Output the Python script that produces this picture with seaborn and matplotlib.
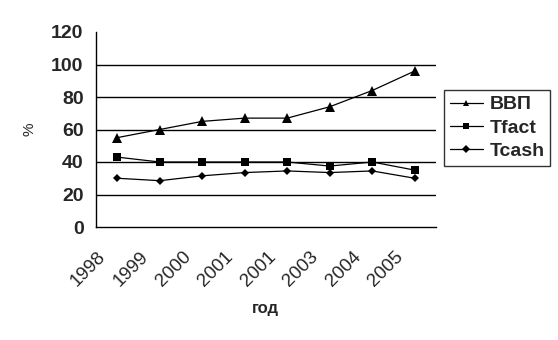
import matplotlib
matplotlib.use("Agg")
import matplotlib.pyplot as plt
import matplotlib.transforms as mtransforms
import seaborn as sns
import pandas as pd
import numpy as np

years = ["1998", "1999", "2000", "2001", "2001", "2003", "2004", "2005"]
vvp = [55, 60, 65, 67, 67, 74, 84, 96]
tfact = [43, 40, 40, 40, 40, 37.5, 40, 35]
tcash = [30, 28.5, 31.5, 33.5, 34.5, 33.5, 34.5, 30]
series_names = ["ВВП", "Tfact", "Tcash"]

sns.set_theme(style="white")
plt.rcParams["font.family"] = ["Liberation Sans", "DejaVu Sans"]

idx = np.arange(len(years))
series = [vvp, tfact, tcash]
markers = ["^", "s", "D"]
msizes = [6.5, 6, 4.5]

fig = plt.figure(figsize=(5.58, 3.40), dpi=100)
ax = fig.add_axes([96 / 558, 1 - 227 / 340, 340 / 558, 195 / 340])

for name, vals, m, ms in zip(series_names, series, markers, msizes):
    d = pd.DataFrame({"idx": idx, "val": vals})
    sns.lineplot(data=d, x="idx", y="val", color="black", marker=m, markersize=ms,
                 linewidth=0.9, markeredgewidth=0, ax=ax, label=name)

ax.set_xlim(-0.5, len(years) - 0.5)
ax.set_ylim(0, 120)
ax.set_yticks(range(0, 121, 20))
for yv in range(20, 101, 20):
    ax.axhline(yv, color="black", linewidth=1, zorder=0)

ax.set_xticks(np.arange(-0.5, len(years), 1.0))
ax.set_xticklabels([])
ax.tick_params(axis="x", which="major", length=5, width=1, color="black", direction="out")
ax.tick_params(axis="y", length=5, width=1, color="black", direction="out", pad=4)
for lab in ax.get_yticklabels():
    lab.set_fontweight("bold")
    lab.set_fontsize(14)

# rotated category labels, placed below each category centre
offset = mtransforms.ScaledTranslation(-14 / 100, -27 / 100, fig.dpi_scale_trans)
label_tr = ax.get_xaxis_transform() + offset
for i, y in zip(idx, years):
    ax.text(i, 0, y, transform=label_tr, rotation=45, ha="right", va="center",
            rotation_mode="anchor", fontsize=13.5, clip_on=False)

for s in ["top", "right"]:
    ax.spines[s].set_visible(False)
for s in ["left", "bottom"]:
    ax.spines[s].set_color("black")
    ax.spines[s].set_linewidth(1)

ax.set_xlabel("")
ax.set_ylabel("")
fig.text(29 / 558, 1 - 129 / 340, "%", rotation=90, fontsize=11,
         ha="center", va="center")
fig.text(265 / 558, 1 - 308 / 340, "год", fontsize=12, fontweight="bold",
         ha="center", va="center")

handles, labels = ax.get_legend_handles_labels()
leg = ax.legend(handles, labels, loc="center", bbox_to_anchor=(497 / 558, 1 - 128 / 340),
                bbox_transform=fig.transFigure, frameon=True, fancybox=False,
                edgecolor="black", prop={"weight": "bold", "size": 14},
                handlelength=1.7, handletextpad=0.35, borderpad=0.3, labelspacing=0.3,
                borderaxespad=0)
leg.get_frame().set_linewidth(1)
for h, ms in zip(leg.legend_handles, [5, 5, 4]):
    h.set_markersize(ms)

fig.savefig("out.png", dpi=100, facecolor="white")
